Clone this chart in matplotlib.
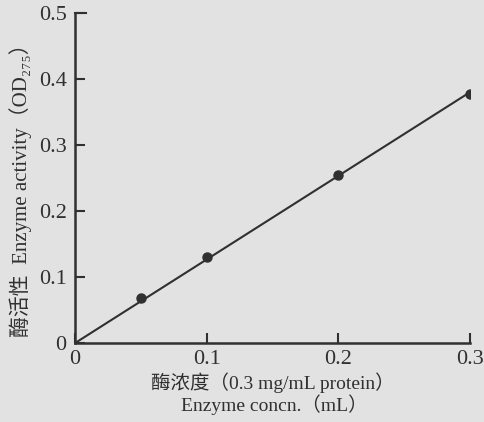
import numpy as np
import matplotlib.pyplot as plt

# enzyme concentration (mL) vs activity (OD275)
conc = [0.05, 0.1, 0.2, 0.3]
activity = [0.069, 0.130, 0.255, 0.377]
x_ticks = [0, 0.1, 0.2, 0.3]
y_ticks = [0, 0.1, 0.2, 0.3, 0.4, 0.5]
x_labels = ['0', '0.1', '0.2', '0.3']
y_labels = ['0', '0.1', '0.2', '0.3', '0.4', '0.5']

plt.rcParams['font.family'] = ['Liberation Serif', 'Noto Sans CJK SC', 'DejaVu Serif']
ink = '#303030'
bg = '#e2e2e2'

fig = plt.figure(figsize=(4.84, 4.22), dpi=100, facecolor=bg)
ax = fig.add_axes([0.155, 0.187, 0.816, 0.782])
ax.set_facecolor(bg)

# least squares line through the origin
slope = np.dot(conc, activity) / np.dot(conc, conc)
xs = np.array([0, 0.3])
ax.plot(xs, slope * xs, color=ink, lw=1.5)
ax.plot(conc, activity, 'o', color=ink, ms=6.5)

ax.set_xlim(0, 0.3)
ax.set_ylim(0, 0.5)
ax.set_xticks(x_ticks)
ax.set_yticks(y_ticks)
ax.set_xticklabels(x_labels)
ax.set_yticklabels(y_labels)
for s in ['top', 'right']:
    ax.spines[s].set_visible(False)
for s in ['left', 'bottom']:
    ax.spines[s].set_color(ink)
    ax.spines[s].set_linewidth(1.8)
ax.tick_params(direction='in', length=7, width=1.5, color=ink,
               labelcolor=ink, labelsize=16)
ax.tick_params(axis='y', pad=6)
ax.tick_params(axis='x', pad=5)
ax.plot([0, 0.008], [0.5, 0.5], color=ink, lw=1.5, clip_on=False)

fig.text(0.042, 0.56, '酶活性  Enzyme activity（OD₂₇₅）', rotation=90,
         ha='center', va='center', fontsize=15, color=ink)
fig.text(0.564, 0.093, '酶浓度（0.3 mg/mL protein）', ha='center', va='center',
         fontsize=14, color=ink)
fig.text(0.566, 0.040, 'Enzyme concn.（mL）', ha='center', va='center',
         fontsize=14, color=ink)

fig.savefig('out.png', dpi=100, facecolor=bg)
